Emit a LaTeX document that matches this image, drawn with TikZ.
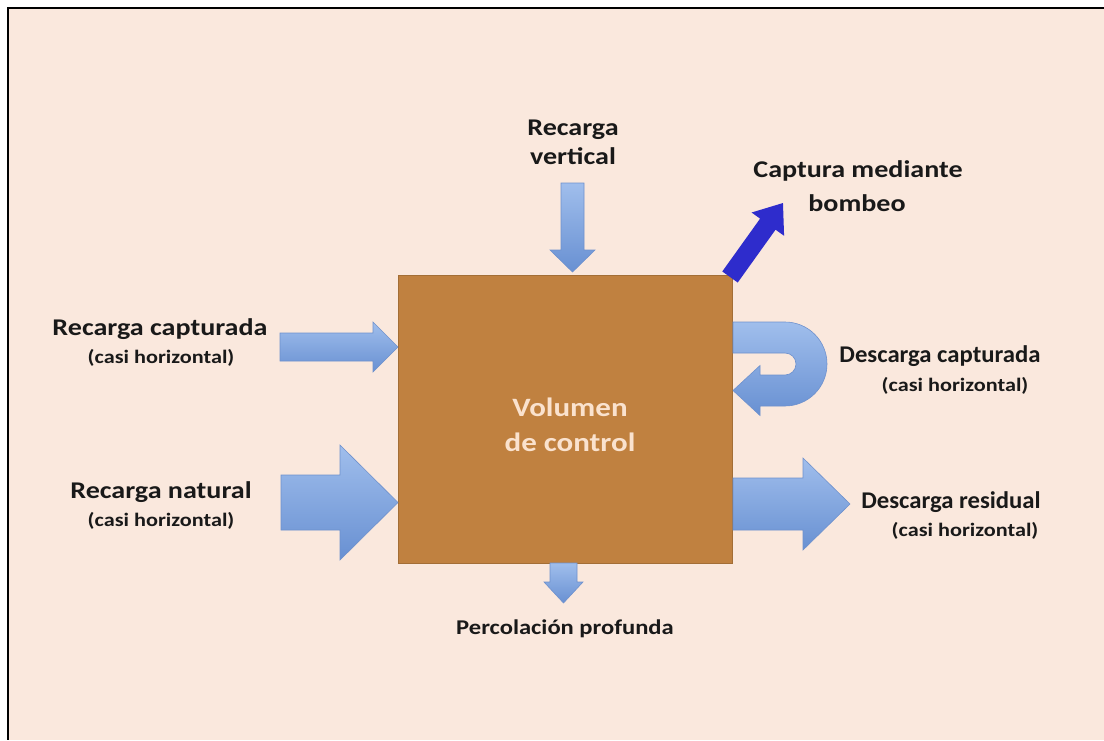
\documentclass[tikz,border=0pt]{standalone}
\usepackage{fontspec}
\setmainfont{Carlito}
\begin{document}
\begin{tikzpicture}[x=1pt,y=-1pt,
  lbl/.style={font=\bfseries\fontsize{24}{29}\selectfont, text=black!90, inner sep=0pt, align=center, xscale=1.17},
  sub/.style={font=\bfseries\fontsize{19}{22}\selectfont, text=black!90, inner sep=0pt, xscale=1.17},
  blue arrow/.style={top color=arrowtop, bottom color=arrowbot, draw=arrowedge, line width=0.6pt},
]
\definecolor{peach}{RGB}{250,232,221}
\definecolor{boxbrown}{RGB}{192,129,64}
\definecolor{arrowtop}{RGB}{160,190,236}
\definecolor{arrowbot}{RGB}{104,144,210}
\definecolor{arrowedge}{RGB}{110,145,205}
\definecolor{pump}{RGB}{46,44,204}
\definecolor{boxtext}{RGB}{250,226,206}
% canvas
\useasboundingbox (0,0) rectangle (1104,740);
\fill[white] (0,0) rectangle (1104,740);
\fill[peach] (8,8) rectangle (1104,740);
\draw[black, line width=1.6pt] (7,8) -- (1104,8);
\draw[black, line width=1.6pt] (8,8) -- (8,740);
% control volume
\node[draw=boxbrown!85!black, line width=0.5pt, fill=boxbrown, minimum width=334pt, minimum height=288pt, inner sep=0pt] (box) at (565,419) {};
\node[font=\bfseries\fontsize{26.5}{35}\selectfont, text=boxtext, align=center, xscale=1.17, inner sep=0pt] (boxlbl) at (570,425) {Volumen\\de control};
% recarga vertical arrow
\path[blue arrow] (561,183) -- (584,183) -- (584,250) -- (595,250) -- (572.5,272) -- (550,250) -- (561,250) -- cycle;
% percolacion arrow
\path[blue arrow] (550,563) -- (577,563) -- (577,582) -- (583,582) -- (563.5,603) -- (544,582) -- (550,582) -- cycle;
% recarga capturada arrow
\path[blue arrow] (280,333) -- (373,333) -- (373,322) -- (398,347) -- (373,372) -- (373,361) -- (280,361) -- cycle;
% recarga natural arrow
\path[blue arrow] (281,475) -- (340,475) -- (340,445) -- (398,502.5) -- (340,560) -- (340,530) -- (281,530) -- cycle;
% descarga residual arrow
\path[blue arrow] (733,478) -- (803,478) -- (803,458) -- (850,504) -- (803,550) -- (803,530) -- (733,530) -- cycle;
% descarga capturada U-turn arrow
\path[blue arrow] (733,322) -- (785,322) arc[start angle=90,end angle=-90,radius=42pt]
   -- (760,406) -- (760,415.5) -- (733,390.5) -- (760,365.5) -- (760,375) -- (785,375)
   arc[start angle=-90,end angle=90,radius=11pt] -- (733,353) -- cycle;
% captura mediante bombeo arrow
\fill[pump, shift={(730,277)}, rotate=54.4]
  (0,-9.5) -- (65,-9.5) -- (65,-20) -- (91,0) -- (65,20) -- (65,9.5) -- (0,9.5) -- cycle;
% labels
\node[lbl] (rv) at (573,142) {Recarga\\vertical};
\node[lbl] (cmb1) at (858,171) {Captura mediante};
\node[lbl] (cmb2) at (857,203) {bombeo};
\node[lbl] (rc) at (160,329) {Recarga capturada};
\node[sub] (rcs) at (161,358) {(casi horizontal)};
\node[lbl] (rn) at (161,492) {Recarga natural};
\node[sub] (rns) at (161,521) {(casi horizontal)};
\node[lbl, xscale=0.88] (dc) at (940,356) {Descarga capturada};
\node[sub] (dcs) at (955,386) {(casi horizontal)};
\node[lbl, xscale=0.88] (dr) at (951,502) {Descarga residual};
\node[sub] (drs) at (965,531) {(casi horizontal)};
\node[sub, font=\bfseries\fontsize{21}{24}\selectfont] (pp) at (565,629) {Percolación profunda};
\end{tikzpicture}
\end{document}
